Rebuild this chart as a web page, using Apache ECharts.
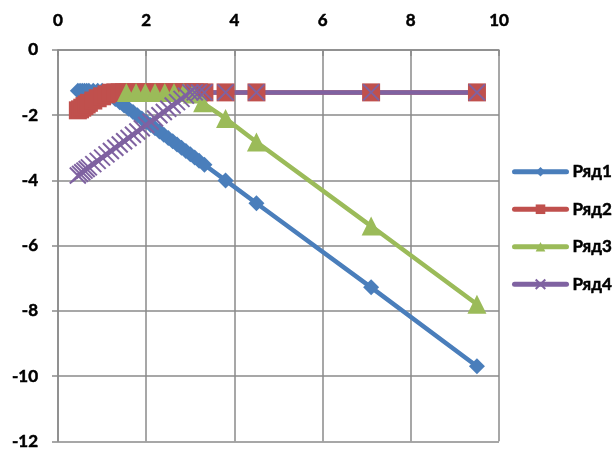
<!DOCTYPE html>
<html>
<head>
<meta charset="utf-8">
<script src="https://cdn.jsdelivr.net/npm/echarts@6/dist/echarts.min.js"></script>
<style>
html,body{margin:0;padding:0;background:#fff;}
#chart{width:616px;height:450px;}
</style>
</head>
<body>
<div id="chart"></div>
<script>
// Ряд1 (blue)
var x1 = [0.45,0.5,0.55,0.6,0.65,0.7,0.8,0.9,1.0,1.1,1.2,1.3,1.4,1.5,1.6,1.7,1.8,1.9,2.0,2.1,2.2,2.3,2.4,2.5,2.6,2.7,2.8,2.9,3.0,3.1,3.2,3.32,3.8,4.5,7.1,9.5];
var y1 = [-1.25,-1.25,-1.25,-1.25,-1.25,-1.25,-1.25,-1.25,-1.25,-1.3,-1.4,-1.5,-1.6,-1.7,-1.8,-1.9,-2.0,-2.1,-2.2,-2.3,-2.4,-2.5,-2.6,-2.7,-2.8,-2.9,-3.0,-3.1,-3.2,-3.3,-3.4,-3.52,-4.0,-4.7,-7.28,-9.7];
// Ряд2 (red)
var x2 = [0.45,0.5,0.55,0.6,0.65,0.7,0.8,0.9,1.0,1.1,1.2,1.3,1.4,1.5,1.6,1.7,1.8,1.9,2.0,2.1,2.2,2.3,2.4,2.5,2.6,2.7,2.8,2.9,3.0,3.1,3.2,3.32,3.8,4.5,7.1,9.5];
var y2 = [-1.85,-1.82,-1.77,-1.72,-1.67,-1.62,-1.55,-1.48,-1.42,-1.36,-1.31,-1.3,-1.3,-1.3,-1.3,-1.3,-1.3,-1.3,-1.3,-1.3,-1.3,-1.3,-1.3,-1.3,-1.3,-1.3,-1.3,-1.3,-1.3,-1.3,-1.3,-1.3,-1.3,-1.3,-1.3,-1.3];
// Ряд3 (green)
var x3 = [1.55,1.77,1.98,2.2,2.42,2.63,2.85,3.05,3.28,3.8,4.5,7.1,9.5];
var y3 = [-1.3,-1.3,-1.3,-1.3,-1.3,-1.3,-1.3,-1.35,-1.62,-2.1,-2.82,-5.4,-7.8];
// Ряд4 (purple)
var x4 = [0.45,0.5,0.55,0.6,0.65,0.7,0.8,0.9,1.0,1.1,1.2,1.3,1.4,1.5,1.6,1.7,1.8,1.9,2.0,2.1,2.2,2.3,2.4,2.5,2.6,2.7,2.8,2.9,3.0,3.1,3.2,3.32,3.8,4.5,7.1,9.5];
var y4 = [-3.85,-3.8,-3.75,-3.7,-3.65,-3.6,-3.5,-3.4,-3.3,-3.2,-3.1,-3.0,-2.9,-2.8,-2.7,-2.6,-2.5,-2.4,-2.3,-2.2,-2.1,-2.0,-1.9,-1.8,-1.7,-1.6,-1.5,-1.4,-1.3,-1.3,-1.3,-1.3,-1.3,-1.3,-1.3,-1.3];

var names = ['Ряд1','Ряд2','Ряд3','Ряд4'];
var xTicks = [0,2,4,6,8,10];
var yTicks = [0,-2,-4,-6,-8,-10,-12];

function pairs(xs, ys){ return xs.map(function(x,i){ return [x, ys[i]]; }); }

var FONT = 'Lato';
var gridColor = '#8a8a8a';
var labelStyle = {fontFamily:FONT, fontWeight:'bold', fontSize:17, color:'#000', textBorderColor:'#000', textBorderWidth:0.5};
var chart = echarts.init(document.getElementById('chart'), null, {renderer:'canvas'});
var crossPath = 'path://M0,0L10,10M10,0L0,10';

chart.setOption({
  animation:false,
  backgroundColor:'#ffffff',
  grid:{left:58, top:50, width:441, height:393, containLabel:false},
  legend:{
    orient:'vertical', left:512, top:163, padding:0,
    itemWidth:52, itemHeight:12, itemGap:20,
    lineStyle:{width:5, cap:'round'},
    textStyle:Object.assign({}, labelStyle, {padding:[0,0,0,1], lineHeight:16}),
    data:names
  },
  xAxis:{
    type:'value', position:'top', min:xTicks[0], max:xTicks[xTicks.length-1], interval:2,
    axisLine:{show:true, lineStyle:{color:gridColor, width:1.5}},
    axisTick:{show:true, inside:true, length:6, lineStyle:{color:gridColor, width:1.5}},
    axisLabel:Object.assign({}, labelStyle, {margin:21,
      formatter:function(v){ return xTicks.indexOf(v) >= 0 ? String(v) : ''; }}),
    splitLine:{show:true, lineStyle:{color:gridColor, width:1.5}}
  },
  yAxis:{
    type:'value', min:yTicks[yTicks.length-1], max:yTicks[0], interval:2,
    axisLine:{show:true, onZero:false, lineStyle:{color:gridColor, width:1.5}},
    axisTick:{show:true, length:6, lineStyle:{color:gridColor, width:1.5}},
    axisLabel:Object.assign({}, labelStyle, {margin:20,
      formatter:function(v){ return yTicks.indexOf(v) >= 0 ? String(v) : ''; }}),
    splitLine:{show:true, lineStyle:{color:gridColor, width:1.5}}
  },
  series:[
    {name:names[0], type:'line', data:pairs(x1,y1), symbol:'diamond', symbolSize:16,
     color:'#4A7EBB', lineStyle:{width:4.5, color:'#4A7EBB'}, itemStyle:{color:'#4A7EBB'}},
    {name:names[1], type:'line', data:pairs(x2,y2), symbol:'rect', symbolSize:18,
     color:'#C0504D', lineStyle:{width:4.5, color:'#C0504D'}, itemStyle:{color:'#C0504D'}},
    {name:names[2], type:'line', data:pairs(x3,y3), symbol:'triangle', symbolSize:19,
     color:'#9BBB59', lineStyle:{width:4.5, color:'#9BBB59'}, itemStyle:{color:'#9BBB59'}},
    {name:names[3], type:'line', data:pairs(x4,y4), symbol:crossPath, symbolSize:16,
     color:'#7F62A1', lineStyle:{width:4.5, color:'#7F62A1'}, itemStyle:{color:'#7F62A1', borderColor:'#7F62A1', borderWidth:2}}
  ]
});
</script>
</body>
</html>
